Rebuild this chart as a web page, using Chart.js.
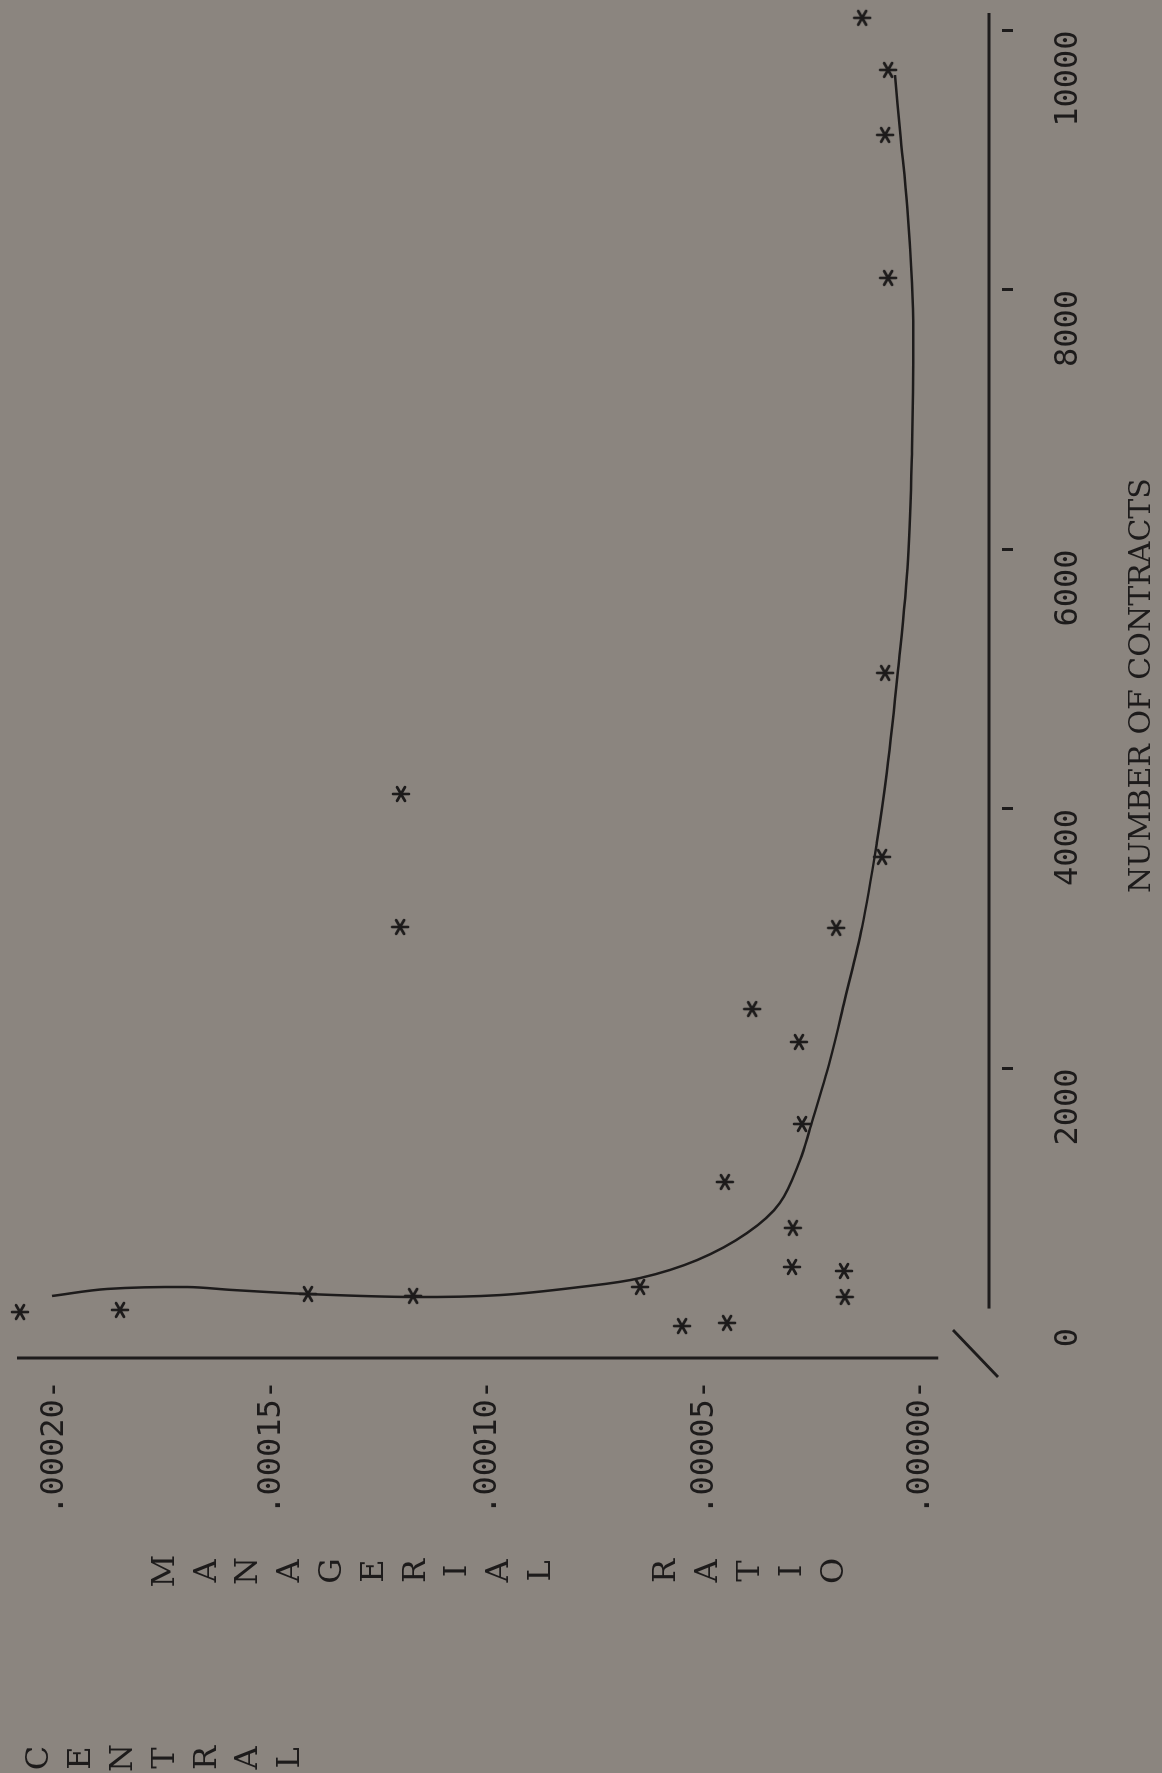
<!DOCTYPE html>
<html>
<head>
<meta charset="utf-8">
<script src="https://cdn.jsdelivr.net/npm/chart.js@4.4.1/dist/chart.umd.min.js"></script>
<style>
  html, body { margin: 0; padding: 0; width: 1162px; height: 1773px; overflow: hidden; background: #8b857f; }
  /* the plot is laid out landscape and turned a quarter turn onto the portrait page */
  #page { position: absolute; left: 0; top: 0; width: 1773px; height: 1162px;
          transform-origin: 0 0; transform: translateY(1773px) rotate(-90deg); }
  canvas { display: block; }
</style>
</head>
<body>
<div id="page"><canvas id="plot" width="1773" height="1162"></canvas></div>
<script>
// Central managerial ratio against number of contracts (observations + fitted curve)
const contracts = [123, 139, 262, 247, 316, 15, 39, 1125, 771, 470, 439, 239,
                   1572, 2204, 2458, 3083, 3630, 5048, 8092, 9194, 9695, 10096, 4115, 3090];
const ratio = [0.0002081, 0.0001850, 0.0001416, 0.0001173, 0.0000649, 0.0000552,
               0.0000448, 0.0000453, 0.0000296, 0.0000298, 0.0000178, 0.0000176,
               0.0000275, 0.0000282, 0.0000390, 0.0000196, 0.0000090, 0.0000083,
               0.0000076, 0.0000083, 0.0000076, 0.0000136, 0.0001201, 0.0001203];

const fitContracts = [247, 301, 316, 293, 262, 239, 254, 316, 385, 524, 732, 963, 1295, 1541,
                      2065, 2528, 3090, 3738, 4277, 5071, 5919, 6766, 7668, 8053, 8639, 9209, 9656];
const fitRatio = [0.0002007, 0.0001880, 0.0001695, 0.0001589, 0.0001416, 0.0001173, 0.0000972,
                  0.0000788, 0.0000649, 0.0000517, 0.0000402, 0.0000326, 0.0000279, 0.0000256,
                  0.0000210, 0.0000176, 0.0000136, 0.0000102, 0.0000079, 0.0000053, 0.0000030,
                  0.0000021, 0.0000018, 0.0000021, 0.0000032, 0.0000048, 0.0000060];

const xTickValues = [0, 2000, 4000, 6000, 8000, 10000];
const xTickLabels = ['0', '2000', '4000', '6000', '8000', '10000'];
const yTickValues = [0, 0.00005, 0.00010, 0.00015, 0.00020];
const yTickLabels = ['.00000-', '.00005-', '.00010-', '.00015-', '.00020-'];

const xTitle = 'NUMBER OF CONTRACTS';
const yTitleColumns = ['CENTRAL', 'MANAGERIAL  RATIO'];

const ink = '#1d1b1b';

// typed asterisk used as the point marker
function asterisk(size, color) {
  const c = document.createElement('canvas');
  c.width = c.height = size;
  const g = c.getContext('2d');
  g.strokeStyle = color;
  g.lineWidth = 2.6;
  g.lineCap = 'round';
  const m = size / 2, r = size / 2 - 2;
  for (let k = 0; k < 3; k++) {
    const a = Math.PI / 2 + k * Math.PI / 3;
    g.beginPath();
    g.moveTo(m - r * Math.cos(a), m - r * Math.sin(a));
    g.lineTo(m + r * Math.cos(a), m + r * Math.sin(a));
    g.stroke();
  }
  return c;
}
const starMark = asterisk(20, ink);

// axis lines with a gap at the origin, the break stroke, and the stacked axis caption
const frame = {
  id: 'frame',
  afterDraw(chart) {
    const { ctx, chartArea, scales: { x, y } } = chart;
    ctx.save();
    ctx.strokeStyle = ink;
    ctx.lineWidth = 3;

    ctx.beginPath();
    ctx.moveTo(chartArea.left, y.getPixelForValue(y.max));
    ctx.lineTo(chartArea.left, y.getPixelForValue(-0.000004));
    ctx.stroke();

    ctx.beginPath();
    ctx.moveTo(x.getPixelForValue(150), chartArea.bottom);
    ctx.lineTo(x.getPixelForValue(x.max), chartArea.bottom);
    ctx.stroke();

    ctx.beginPath();
    ctx.moveTo(chartArea.left + 28, chartArea.bottom - 36);
    ctx.lineTo(chartArea.left - 19, chartArea.bottom + 9);
    ctx.stroke();

    ctx.fillStyle = ink;
    ctx.font = '32px "DejaVu Serif"';
    ctx.textAlign = 'center';
    ctx.textBaseline = 'middle';
    const colX = [15, 202], firstRow = [0, 3], rowTop = 40, rowStep = 41.8;
    yTitleColumns.forEach((word, c) => {
      [...word].forEach((ch, i) => {
        if (ch !== ' ') ctx.fillText(ch, colX[c], rowTop + (firstRow[c] + i) * rowStep);
      });
    });
    ctx.restore();
  }
};

new Chart(document.getElementById('plot'), {
  type: 'scatter',
  data: {
    datasets: [
      {
        label: 'fitted',
        data: fitContracts.map((c, i) => ({ x: c, y: fitRatio[i] })),
        showLine: true,
        borderColor: ink,
        borderWidth: 2.5,
        pointRadius: 0,
        tension: 0.35,
        fill: false,
        clip: false
      },
      {
        label: 'observed',
        data: contracts.map((c, i) => ({ x: c, y: ratio[i] })),
        pointStyle: starMark,
        pointRadius: 10,
        showLine: false,
        clip: false
      }
    ]
  },
  options: {
    responsive: false,
    animation: false,
    devicePixelRatio: 1,
    layout: { padding: { left: 0, right: 13, top: 17, bottom: 0 } },
    plugins: { legend: { display: false }, tooltip: { enabled: false } },
    scales: {
      x: {
        type: 'linear',
        position: 'bottom',
        min: -231,
        max: 10134,
        afterBuildTicks: s => { s.ticks = xTickValues.map(v => ({ value: v })); },
        afterFit: s => { s.height = 173; s.paddingLeft = 0; s.paddingRight = 0; },
        border: { display: false },
        grid: {
          drawOnChartArea: false,
          drawTicks: true,
          tickLength: 24,
          tickWidth: 3,
          tickColor: c => (c.tick && c.tick.value === 0) ? 'rgba(0,0,0,0)' : ink,
          tickBorderDash: [11, 13],
          tickBorderDashOffset: 11
        },
        ticks: {
          align: 'end',
          padding: 36,
          color: ink,
          maxRotation: 0,
          autoSkip: false,
          font: { family: '"DejaVu Sans Mono"', size: 32 },
          callback: (v, i) => xTickLabels[i]
        },
        title: {
          display: true,
          text: xTitle,
          color: ink,
          font: { family: '"DejaVu Serif"', size: 30 },
          padding: { top: 0, bottom: 2 }
        }
      },
      y: {
        type: 'linear',
        position: 'left',
        min: -0.0000157,
        max: 0.00020878,
        afterBuildTicks: s => { s.ticks = yTickValues.map(v => ({ value: v })); },
        afterFit: s => { s.width = 415; s.paddingTop = 0; s.paddingBottom = 0; },
        border: { display: false },
        grid: { display: false, drawTicks: false },
        ticks: {
          padding: 22,
          color: ink,
          autoSkip: false,
          font: { family: '"DejaVu Sans Mono"', size: 32 },
          callback: (v, i) => yTickLabels[i]
        }
      }
    }
  },
  plugins: [frame]
});
</script>
</body>
</html>
